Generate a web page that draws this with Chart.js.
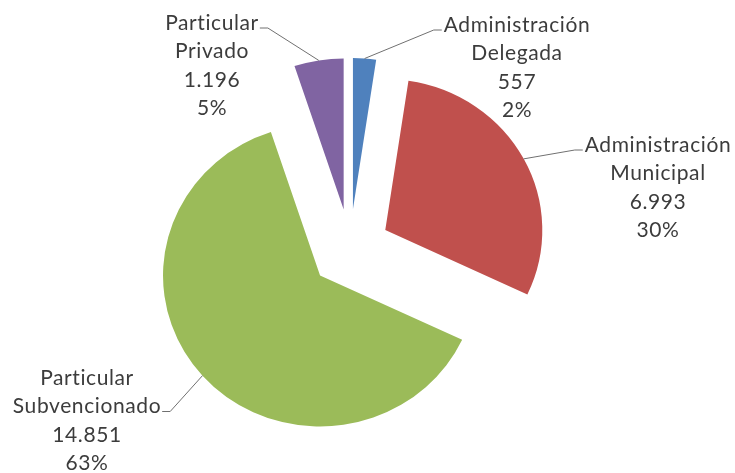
<!DOCTYPE html>
<html>
<head>
<meta charset="utf-8">
<script src="https://cdn.jsdelivr.net/npm/chart.js@4/dist/chart.umd.min.js"></script>
<style>
  html, body { margin: 0; padding: 0; background: #fff; }
  #wrap { width: 735px; height: 473px; }
</style>
</head>
<body>
<div id="wrap"><canvas id="pieChart" width="735" height="473"></canvas></div>
<script>
// datos
const categories = ["Administración Delegada", "Administración Municipal", "Particular Subvencionado", "Particular Privado"];
const values = [557, 6993, 14851, 1196];
const colors = ["#4F81BD", "#C0504D", "#9BBB59", "#8064A2"];

// posicion de las etiquetas (centro x, y de la primera linea, a qué lado va la linea guia)
const labelLayout = [
    { cx: 517, y0: 25, line: 0, side: "left" },
    { cx: 658, y0: 145, line: 0, side: "left" },
    { cx: 87, y0: 378, line: 1, side: "right" },
    { cx: 212, y0: 23, line: 0, side: "right" }
];

const EXPLODE = 40;      // separación de cada porción
const SX = 1.04;         // el original está algo estirado en horizontal
const LINE_H = 28.5;
const FONT = "21px Lato";

const total = values.reduce((s, v) => s + v, 0);

function fmtNum(n) {
    return String(n).replace(/\B(?=(\d{3})+(?!\d))/g, ".");
}

// porciones separadas: se dibujan los arcos de Chart.js trasladados sobre su bisectriz
const explodePlugin = {
    id: "explode",
    beforeDatasetDraw(chart, args) {
        const ctx = chart.ctx;
        const meta = args.meta;
        meta.data.forEach(arc => {
            const mid = (arc.startAngle + arc.endAngle) / 2;
            ctx.save();
            ctx.translate(arc.x + Math.cos(mid) * EXPLODE, arc.y + Math.sin(mid) * EXPLODE);
            ctx.scale(SX, 1);
            ctx.translate(-arc.x, -arc.y);
            arc.draw(ctx);
            ctx.restore();
        });
        return false;
    }
};

// etiquetas con lineas guia
const labelPlugin = {
    id: "pieLabels",
    afterDatasetsDraw(chart) {
        const ctx = chart.ctx;
        const meta = chart.getDatasetMeta(0);
        ctx.save();
        ctx.font = FONT;
        ctx.letterSpacing = "0.6px";
        ctx.textAlign = "center";
        ctx.textBaseline = "middle";
        meta.data.forEach((arc, i) => {
            const lay = labelLayout[i];
            const pct = Math.round(values[i] / total * 100) + "%";
            const lines = categories[i].split(" ").concat([fmtNum(values[i]), pct]);

            // punto de partida sobre el borde exterior de la porción
            const mid = (arc.startAngle + arc.endAngle) / 2;
            const r = arc.outerRadius;
            const ax = arc.x + Math.cos(mid) * (EXPLODE + r * SX);
            const ay = arc.y + Math.sin(mid) * (EXPLODE + r);

            const w = ctx.measureText(lines[lay.line]).width;
            const ty = lay.y0 + lay.line * LINE_H + 5;
            const tx = lay.side === "left" ? lay.cx - w / 2 - 2 : lay.cx + w / 2 + 1;
            const ex = lay.side === "left" ? tx - 8 : tx + 8;

            ctx.strokeStyle = "#707070";
            ctx.lineWidth = 1;
            ctx.beginPath();
            ctx.moveTo(ax, ay);
            ctx.lineTo(ex, ty);
            ctx.lineTo(tx, ty);
            ctx.stroke();

            ctx.fillStyle = "#3c3c3c";
            lines.forEach((t, k) => ctx.fillText(t, lay.cx, lay.y0 + k * LINE_H));
        });
        ctx.restore();
    }
};

new Chart(document.getElementById("pieChart"), {
    type: "pie",
    data: {
        labels: categories,
        datasets: [{
            data: values,
            backgroundColor: colors,
            borderWidth: 0
        }]
    },
    options: {
        responsive: false,
        animation: false,
        radius: 151,
        layout: { padding: { left: 0, right: 35, top: 25, bottom: 0 } },
        plugins: {
            legend: { display: false },
            tooltip: { enabled: false }
        }
    },
    plugins: [explodePlugin, labelPlugin]
});
</script>
</body>
</html>
